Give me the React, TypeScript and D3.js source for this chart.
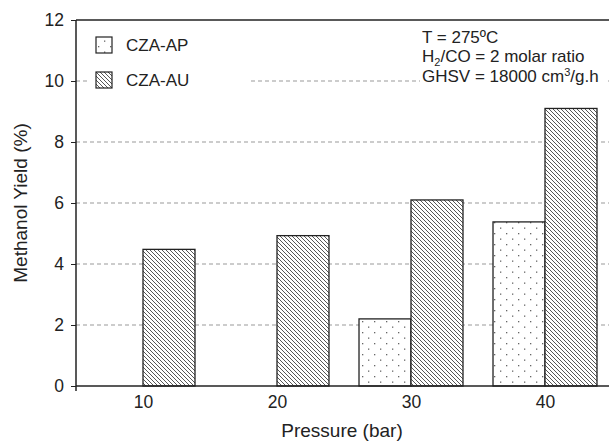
import React from "react";
import * as d3 from "d3";

// pressure (bar) groups and methanol yield (%) for each catalyst
const pressures = [10, 20, 30, 40];
const czaAP = [null, null, 2.2, 5.38];
const czaAU = [4.48, 4.93, 6.1, 9.1];
const yTicks = [0, 2, 4, 6, 8, 10, 12];
const series = ["CZA-AP", "CZA-AU"];

export default function App() {
    const ref = React.useRef<SVGSVGElement>(null);

    React.useEffect(() => {
        drawChart();
    }, []);

    function drawChart() {
        const svg = d3.select(ref.current);
        svg.selectAll("*").remove();

        const font = "'Liberation Sans', Arial, Helvetica, sans-serif";
        const left = 76,
            top = 20,
            bottom = 386,
            right = 612;

        const x = d3.scaleLinear().domain([5, 45]).range([left, right]);
        const y = d3.scaleLinear().domain([0, 12]).range([bottom, top]);
        const barW = 3.88; // in pressure units

        // patterns
        const defs = svg.append("defs");
        const hatch = defs
            .append("pattern")
            .attr("id", "hatch")
            .attr("patternUnits", "userSpaceOnUse")
            .attr("width", 4)
            .attr("height", 4);
        hatch.append("rect").attr("width", 4).attr("height", 4).attr("fill", "#fff");
        hatch
            .append("path")
            .attr("d", "M0,0 L4,4 M-1,3 L1,5 M3,-1 L5,1")
            .attr("stroke", "#444")
            .attr("stroke-width", 0.9);

        const dots = defs
            .append("pattern")
            .attr("id", "dots")
            .attr("patternUnits", "userSpaceOnUse")
            .attr("width", 12)
            .attr("height", 11);
        dots.append("rect").attr("width", 12).attr("height", 11).attr("fill", "#fff");
        dots.append("rect").attr("x", 2).attr("y", 2).attr("width", 1.3).attr("height", 1.3).attr("fill", "#666");
        dots.append("rect").attr("x", 8).attr("y", 7.5).attr("width", 1.3).attr("height", 1.3).attr("fill", "#666");

        // gridlines
        svg.append("g")
            .selectAll("line")
            .data(yTicks.filter((d) => d > 0 && d < 12))
            .join("line")
            .attr("x1", left)
            .attr("x2", 609)
            .attr("y1", (d) => y(d))
            .attr("y2", (d) => y(d))
            .attr("stroke", "#999")
            .attr("stroke-width", 1)
            .attr("stroke-dasharray", "4,3");

        // white boxes behind legend and annotation
        svg.append("rect").attr("x", 88).attr("y", 24).attr("width", 160).attr("height", 72).attr("fill", "#fff");
        svg.append("rect").attr("x", 420).attr("y", 26).attr("width", 186).attr("height", 62).attr("fill", "#fff");

        // bars
        const bars = svg.append("g").attr("stroke", "#222").attr("stroke-width", 1.3);
        pressures.forEach((p, i) => {
            if (czaAP[i] !== null) {
                bars.append("rect")
                    .attr("x", x(p - barW))
                    .attr("y", y(czaAP[i] as number))
                    .attr("width", x(p) - x(p - barW))
                    .attr("height", y(0) - y(czaAP[i] as number))
                    .attr("fill", "url(#dots)");
            }
            bars.append("rect")
                .attr("x", x(p))
                .attr("y", y(czaAU[i]))
                .attr("width", x(p + barW) - x(p))
                .attr("height", y(0) - y(czaAU[i]))
                .attr("fill", "url(#hatch)");
        });

        // frame
        const frame = svg.append("g").attr("stroke", "#222").attr("stroke-width", 1.5).attr("fill", "none");
        frame.append("line").attr("x1", left).attr("x2", left).attr("y1", top).attr("y2", bottom + 5);
        frame.append("line").attr("x1", left).attr("x2", 609).attr("y1", bottom).attr("y2", bottom);
        frame.append("line").attr("x1", left).attr("x2", 609).attr("y1", top).attr("y2", top);

        // y axis
        const yAxis = d3.axisLeft(y).tickValues(yTicks).tickSize(5).tickPadding(7);
        const yG = svg.append("g").attr("transform", `translate(${left},0)`).call(yAxis);
        yG.select(".domain").remove();
        yG.selectAll(".tick line").attr("stroke", "#222").attr("stroke-width", 1);
        yG.selectAll(".tick text")
            .attr("font-family", font)
            .attr("font-size", 17.5)
            .attr("fill", "#222");

        // x axis labels
        const xAxis = d3.axisBottom(x).tickValues(pressures).tickSize(0).tickPadding(10);
        const xG = svg.append("g").attr("transform", `translate(0,${bottom})`).call(xAxis);
        xG.select(".domain").remove();
        xG.selectAll(".tick text")
            .attr("font-family", font)
            .attr("font-size", 17.5)
            .attr("fill", "#222");

        // axis titles
        svg.append("text")
            .attr("x", 342)
            .attr("y", 437)
            .attr("text-anchor", "middle")
            .attr("font-family", font)
            .attr("font-size", 19)
            .attr("fill", "#222")
            .text("Pressure (bar)");
        svg.append("text")
            .attr("transform", `translate(27,${(top + bottom) / 2}) rotate(-90)`)
            .attr("text-anchor", "middle")
            .attr("font-family", font)
            .attr("font-size", 19)
            .attr("fill", "#222")
            .text("Methanol Yield (%)");

        // legend
        const legend = svg.append("g");
        series.forEach((s, i) => {
            const ly = 37 + i * 35;
            legend.append("rect")
                .attr("x", 96)
                .attr("y", ly)
                .attr("width", 16)
                .attr("height", 16)
                .attr("fill", i === 0 ? "url(#dots)" : "url(#hatch)")
                .attr("stroke", "#222")
                .attr("stroke-width", 1.2);
            legend.append("text")
                .attr("x", 126)
                .attr("y", ly + 14)
                .attr("font-family", font)
                .attr("font-size", 17)
                .attr("fill", "#222")
                .text(s);
        });

        // conditions
        const note = svg
            .append("g")
            .attr("font-family", font)
            .attr("font-size", 17)
            .attr("fill", "#222");
        note.append("text").attr("x", 422).attr("y", 43).text("T = 275ºC");
        const h2 = note.append("text").attr("x", 422).attr("y", 62);
        h2.append("tspan").text("H");
        h2.append("tspan").attr("font-size", 11).attr("dy", 4).text("2");
        h2.append("tspan").attr("dy", -4).text("/CO = 2 molar ratio");
        const gh = note.append("text").attr("x", 422).attr("y", 82);
        gh.append("tspan").text("GHSV = 18000 cm");
        gh.append("tspan").attr("font-size", 11).attr("dy", -6).text("3");
        gh.append("tspan").attr("dy", 6).text("/g.h");
    }

    return (
        <svg
            ref={ref}
            width={609}
            height={443}
            style={{ position: "absolute", left: 0, top: 0, background: "#fff" }}
        />
    );
}
